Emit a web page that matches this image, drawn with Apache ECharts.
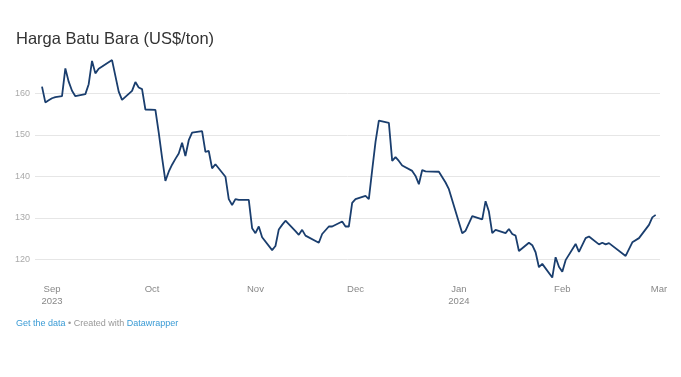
<!DOCTYPE html>
<html>
<head>
<meta charset="utf-8">
<script src="https://cdn.jsdelivr.net/npm/echarts@6/dist/echarts.min.js"></script>
<style>
  html, body { margin: 0; padding: 0; background: #fff; }
  #chart { width: 681px; height: 377px; }
</style>
</head>
<body>
<div id="chart"></div>
<script>
// harga batu bara
var dates = [
  '2023-08-29', '2023-08-30', '2023-08-31', '2023-09-01', '2023-09-02', '2023-09-04',
  '2023-09-05', '2023-09-06', '2023-09-07', '2023-09-08', '2023-09-11', '2023-09-12',
  '2023-09-13', '2023-09-14', '2023-09-15', '2023-09-19', '2023-09-21', '2023-09-22',
  '2023-09-25', '2023-09-26', '2023-09-27', '2023-09-28', '2023-09-29', '2023-10-02',
  '2023-10-03', '2023-10-04', '2023-10-05', '2023-10-06', '2023-10-07', '2023-10-08',
  '2023-10-09', '2023-10-10', '2023-10-11', '2023-10-12', '2023-10-13', '2023-10-16',
  '2023-10-17', '2023-10-18', '2023-10-19', '2023-10-20', '2023-10-23', '2023-10-24',
  '2023-10-25', '2023-10-26', '2023-10-27', '2023-10-30', '2023-10-31', '2023-11-01',
  '2023-11-02', '2023-11-03', '2023-11-06', '2023-11-07', '2023-11-08', '2023-11-09',
  '2023-11-10', '2023-11-13', '2023-11-14', '2023-11-15', '2023-11-16', '2023-11-20',
  '2023-11-21', '2023-11-23', '2023-11-24', '2023-11-27', '2023-11-28', '2023-11-29',
  '2023-11-30', '2023-12-01', '2023-12-04', '2023-12-05', '2023-12-06', '2023-12-07',
  '2023-12-08', '2023-12-11', '2023-12-12', '2023-12-13', '2023-12-14', '2023-12-15',
  '2023-12-18', '2023-12-19', '2023-12-20', '2023-12-21', '2023-12-22', '2023-12-26',
  '2023-12-28', '2023-12-29', '2024-01-02', '2024-01-03', '2024-01-05', '2024-01-08',
  '2024-01-09', '2024-01-10', '2024-01-11', '2024-01-12', '2024-01-15', '2024-01-16',
  '2024-01-17', '2024-01-18', '2024-01-19', '2024-01-22', '2024-01-23', '2024-01-24',
  '2024-01-25', '2024-01-26', '2024-01-29', '2024-01-30', '2024-01-31', '2024-02-01',
  '2024-02-02', '2024-02-05', '2024-02-06', '2024-02-08', '2024-02-09', '2024-02-12',
  '2024-02-13', '2024-02-14', '2024-02-15', '2024-02-20', '2024-02-22', '2024-02-24',
  '2024-02-27', '2024-02-28', '2024-02-29'
];
var prices = [
  161.6, 157.8, 158.3, 158.8, 159.1, 159.3,
  166.0, 162.8, 160.6, 159.3, 159.8, 162.2,
  167.8, 164.8, 165.9, 168.0, 160.4, 158.4,
  160.6, 162.7, 161.4, 161.0, 156.1, 156.0,
  150.5, 144.5, 138.9, 141.1, 142.8, 144.2,
  145.5, 148.1, 144.9, 148.7, 150.5, 150.9,
  145.9, 146.1, 141.9, 142.9, 139.9, 134.5,
  133.1, 134.5, 134.3, 134.3, 127.5, 126.3,
  127.9, 125.3, 122.2, 123.2, 127.2, 128.3,
  129.3, 126.8, 125.9, 127.1, 125.7, 124.0,
  126.1, 127.9, 127.9, 129.1, 127.9, 127.9,
  133.6, 134.5, 135.3, 134.5, 141.5, 148.3,
  153.4, 152.9, 143.7, 144.6, 143.7, 142.6,
  141.3, 140.1, 138.1, 141.5, 141.2, 141.1,
  138.5, 136.9, 126.3, 126.9, 130.4, 129.6,
  134.0, 131.5, 126.3, 127.1, 126.3, 127.3,
  126.1, 125.7, 122.0, 124.0, 123.4, 121.7,
  118.1, 118.9, 115.6, 120.5, 118.2, 117.0,
  119.8, 123.7, 121.8, 125.1, 125.5, 123.6,
  124.0, 123.6, 123.9, 120.8, 124.1, 125.1,
  128.3, 130.1, 130.7
];
var monthTicks = ['2023-09-01', '2023-10-01', '2023-11-01', '2023-12-01', '2024-01-01', '2024-02-01', '2024-03-01'];
var monthNames = ['Jan', 'Feb', 'Mar', 'Apr', 'May', 'Jun', 'Jul', 'Aug', 'Sep', 'Oct', 'Nov', 'Dec'];
var yTicks = [120, 130, 140, 150, 160];

function toTime(s) {
  var p = s.split('-');
  return new Date(+p[0], +p[1] - 1, +p[2]).getTime();
}

var chart = echarts.init(document.getElementById('chart'));

var seriesData = dates.map(function (d, i) { return [toTime(d), prices[i]]; });

// tick 115 and 170 only pad the axis, their lines stay invisible
var gridColors = [];
for (var v = 115; v <= 170; v += 5) {
  gridColors.push(yTicks.indexOf(v) >= 0 ? '#e6e6e6' : 'rgba(0,0,0,0)');
}

chart.setOption({
  animation: false,
  textStyle: { fontFamily: 'Liberation Sans, Arial, sans-serif' },
  grid: { left: 35, right: 21, top: 51.8, bottom: 96.95 },
  xAxis: {
    // timestamps on a value axis, so month labels can be placed exactly
    type: 'value',
    min: new Date(2023, 7, 26, 21, 36).getTime(),
    max: new Date(2024, 2, 1, 7, 12).getTime(),
    axisLine: { show: false },
    axisTick: { show: false },
    splitLine: { show: false },
    axisLabel: {
      customValues: monthTicks.map(toTime),
      hideOverlap: false,
      showMinLabel: true,
      showMaxLabel: true,
      margin: 3,
      fontSize: 9.5,
      lineHeight: 12,
      color: '#888',
      formatter: function (val) {
        var d = new Date(val);
        var m = d.getMonth();
        return (m === 8 || m === 0) ? monthNames[m] + '\n' + d.getFullYear() : monthNames[m];
      }
    }
  },
  yAxis: {
    type: 'value',
    min: 115,
    max: 170,
    interval: 5,
    axisLine: { show: false },
    axisTick: { show: false },
    splitLine: { lineStyle: { color: gridColors, width: 1 } },
    axisLabel: {
      margin: 5,
      fontSize: 9,
      color: '#aaa',
      formatter: function (val) { return yTicks.indexOf(val) >= 0 ? String(val) : ''; }
    }
  },
  graphic: [
    {
      type: 'text',
      left: 16,
      top: 31,
      style: {
        text: 'Harga Batu Bara (US$/ton)',
        font: '16.5px "Liberation Sans", Arial, sans-serif',
        fill: '#333'
      }
    },
    {
      type: 'text',
      left: 16,
      top: 319.5,
      style: {
        text: '{a|Get the data} {b|• Created with} {a|Datawrapper}',
        font: '9px "Liberation Sans", Arial, sans-serif',
        rich: {
          a: { fill: '#3a9bd5', fontSize: 9 },
          b: { fill: '#999', fontSize: 9 }
        }
      }
    }
  ],
  series: [
    {
      type: 'line',
      data: seriesData,
      showSymbol: false,
      lineStyle: { color: '#1a3e6e', width: 1.8 },
      itemStyle: { color: '#1a3e6e' }
    }
  ]
});
</script>
</body>
</html>
